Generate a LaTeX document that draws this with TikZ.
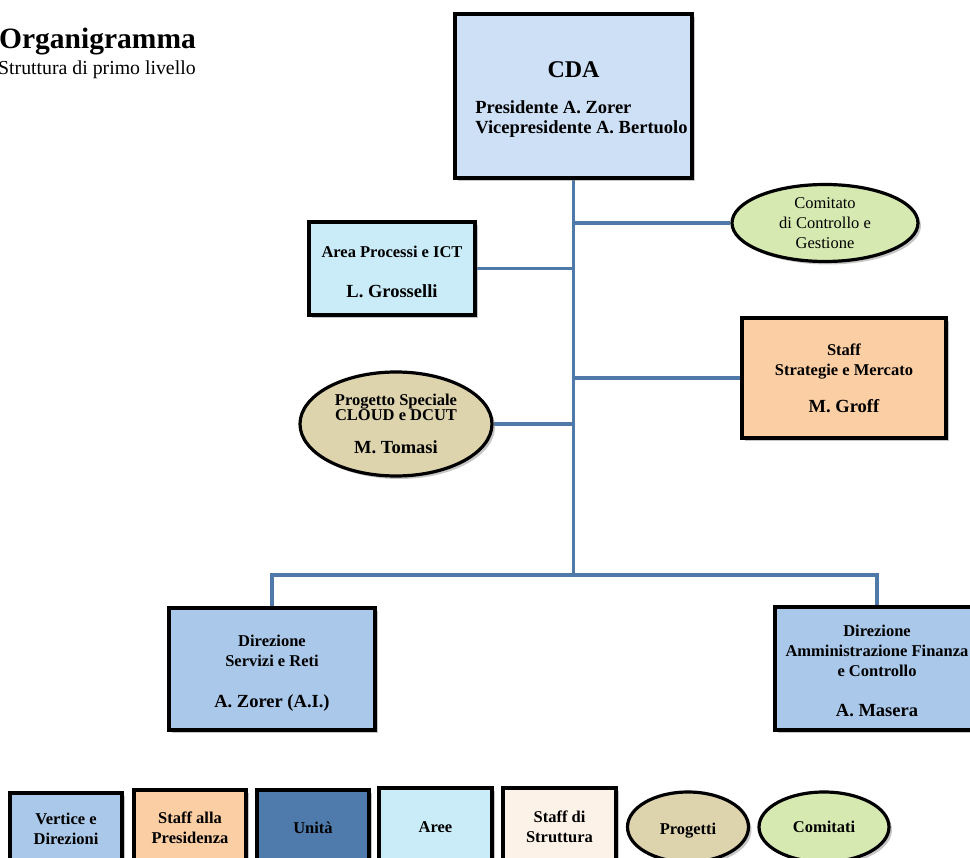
\documentclass[tikz,border=0pt]{standalone}
\usepackage{fontspec}
\setmainfont{Liberation Serif}
\usetikzlibrary{shapes.geometric,shadows}
\definecolor{cdafill}{HTML}{CDE0F6}
\definecolor{dirfill}{HTML}{AAC8E9}
\definecolor{areafill}{HTML}{C9ECF8}
\definecolor{stafffill}{HTML}{FBCEA4}
\definecolor{progfill}{HTML}{DDD4AE}
\definecolor{comfill}{HTML}{D6E9B1}
\definecolor{unitfill}{HTML}{4E7AAC}
\definecolor{ssfill}{HTML}{FDF2E8}
\definecolor{linkblue}{HTML}{4F79A8}
\newcommand\fsLine{\fontsize{16.5}{20}\selectfont\bfseries}
\newcommand\fsName{\fontsize{18.5}{22}\selectfont\bfseries}
\newcommand\fsReg{\fontsize{16.5}{20}\selectfont}
\pgfdeclarelayer{bg}
\pgfsetlayers{bg,main}
\begin{document}
\begin{tikzpicture}[x=1pt,y=-1pt,
  shad/.style={drop shadow={shadow xshift=3pt,shadow yshift=-3pt,opacity=0.45}},
  unitbox/.style={draw=black, line width=3.4pt, rectangle, inner sep=0pt, align=center, font=\fsLine, shad},
  unitell/.style={draw=black, line width=3.2pt, ellipse, inner sep=0pt, align=center, font=\fsLine, shad},
  conn/.style={draw=linkblue, line width=3.2pt}]
\useasboundingbox (0,0) rectangle (970,858);

% title
\node[anchor=base west, inner sep=0pt, font=\fontsize{29.5}{33}\selectfont\bfseries] (title) at (-1,49) {Organigramma};
\node[anchor=base west, inner sep=0pt, font=\fontsize{19.8}{24}\selectfont] (subtitle) at (-2,75) {Struttura di primo livello};

% main units
\node[unitbox, fill=cdafill, minimum width=237pt, minimum height=164pt] (cda) at (573.5,96)
  {{\fontsize{24}{28}\selectfont\rule{0pt}{25pt}CDA}\\[20pt]
   \hspace*{16pt}{\fontsize{18.5}{20}\selectfont\bfseries\begin{tabular}{@{}l@{}}Presidente A. Zorer\\Vicepresidente A. Bertuolo\end{tabular}}};

\node[unitell, fill=comfill, font=\fsReg, minimum width=186pt, minimum height=77pt] (com) at (825,223)
  {Comitato\\di Controllo e\\Gestione};

\node[unitbox, fill=areafill, minimum width=166pt, minimum height=93pt] (area) at (392,268.5)
  {\rule{0pt}{18pt}Area Processi e ICT\\[20pt]{\fsName L. Grosselli}};

\node[unitbox, fill=stafffill, minimum width=204pt, minimum height=120pt] (staff) at (844,378)
  {Staff\\Strategie e Mercato\\[17pt]{\fsName M. Groff}};

\node[unitell, fill=progfill, minimum width=192pt, minimum height=104pt] (prog) at (396,424)
  {Progetto Speciale\\[-5pt]CLOUD e DCUT\\[13pt]{\fsName M. Tomasi}};

\node[unitbox, fill=dirfill, minimum width=206pt, minimum height=122pt] (dsr) at (272,669)
  {\rule{0pt}{20pt}Direzione\\Servizi e Reti\\[21pt]{\fsName A. Zorer (A.I.)}};

\node[unitbox, fill=dirfill, minimum width=204pt, minimum height=123pt] (daf) at (877,668.5)
  {\rule{0pt}{16pt}Direzione\\Amministrazione Finanza\\e Controllo\\[20pt]{\fsName A. Masera}};

\coordinate (bar) at (573.5,575);

% connectors
\begin{pgfonlayer}{bg}
\draw[conn] (cda.south) -- (bar);
\draw[conn] (cda.south |- com.west) -- (com.west);
\draw[conn] (cda.south |- area.east) -- (area.east);
\draw[conn] (cda.south |- staff.west) -- (staff.west);
\draw[conn] (cda.south |- prog.east) -- (prog.east);
\draw[conn] (dsr.north) |- (bar) -| (daf.north);
\end{pgfonlayer}

% legend
\node[unitbox, fill=dirfill, minimum width=112pt, minimum height=72pt] (lgvert) at (66,829) {Vertice e\\Direzioni};
\node[unitbox, fill=stafffill, minimum width=112pt, minimum height=76pt] (lgstaff) at (190,828) {Staff alla\\Presidenza};
\node[unitbox, fill=unitfill, minimum width=112pt, minimum height=76pt] (lgunit) at (313,828) {Unità};
\node[unitbox, fill=areafill, minimum width=113pt, minimum height=78pt] (lgaree) at (435.5,827) {Aree};
\node[unitbox, fill=ssfill, minimum width=113pt, minimum height=78pt] (lgss) at (559.5,827) {Staff di\\Struttura};
\node[unitell, fill=progfill, minimum width=121pt, minimum height=70pt] (lgprog) at (688,827) {\rule{0pt}{18pt}Progetti};
\node[unitell, fill=comfill, minimum width=130pt, minimum height=70pt] (lgcom) at (824,827) {Comitati};
\end{tikzpicture}
\end{document}
